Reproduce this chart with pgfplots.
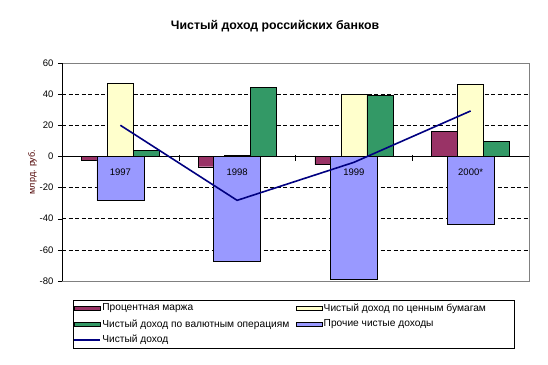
\documentclass[border=0pt]{standalone}
\usepackage{fontspec}
\setmainfont{Liberation Sans}
\usepackage{pgfplots}
\pgfplotsset{compat=1.18}
\definecolor{cPurple}{HTML}{993366}
\definecolor{cYellow}{HTML}{FFFFCC}
\definecolor{cGreen}{HTML}{339966}
\definecolor{cBlue}{HTML}{9999FF}
\definecolor{cNavy}{HTML}{000080}
\definecolor{cLabel}{HTML}{4D0000}
\definecolor{cBorder}{HTML}{808080}
\pgfplotsset{
  barleg/.style={legend image code/.code={\draw[##1] (0pt,-2pt) rectangle (26pt,2pt);}},
  lineleg/.style={legend image code/.code={\draw[##1] (0pt,0pt) -- (26pt,0pt);}},
}
\begin{document}
\begin{tikzpicture}
\begin{axis}[
  scale only axis, width=467pt, height=218pt,
  xmin=-0.5, xmax=3.5, ymin=-80, ymax=60,
  ytick={-80,-60,...,60},
  xtick=\empty,
  ytick pos=left, tick align=outside, major tick length=4pt,
  tick style={black},
  axis line style={cBorder},
  extra y ticks={-60,-40,-20,20,40},
  extra y tick labels={},
  extra y tick style={ymajorgrids=true, major tick length=0pt},
  grid style={black, dash pattern=on 4pt off 2.5pt, line width=0.6pt},
  /pgf/number format/assume math mode=true,
  ticklabel style={font=\fontsize{9.5}{11}\selectfont},
  yticklabel style={xshift=-1pt},
  legend columns=2,
  legend cell align=left,
  legend style={at={(0.0236,-0.0872)}, anchor=north west, draw=black,
    inner xsep=0pt, inner ysep=0pt,
    font=\fontsize{10.2}{12}\selectfont,
    nodes={inner xsep=1.5pt, inner ysep=3.4pt},
    column sep=0pt},
]
\coordinate (bl) at (rel axis cs:0,0);
\addplot[ybar, bar width=0.2227, bar shift=-0.2227, fill=cPurple, draw=black, barleg]
  coordinates {(0,-2.6) (1,-6.6) (2,-5.2) (3,15.9)};
\addlegendentry{\makebox[192pt][l]{Процентная маржа}}
\addplot[ybar, bar width=0.2227, bar shift=0, fill=cYellow, draw=black, barleg]
  coordinates {(0,46.8) (1,0.5) (2,39.7) (3,46.2)};
\addlegendentry{\makebox[189pt][l]{Чистый доход по ценным бумагам}}
\addplot[ybar, bar width=0.2227, bar shift=0.2227, fill=cGreen, draw=black, barleg]
  coordinates {(0,3.9) (1,44.2) (2,39.0) (3,9.6)};
\addlegendentry{\makebox[192pt][l]{Чистый доход по валютным операциям}}
\addplot[ybar, bar width=0.4026, bar shift=0, fill=cBlue, draw=black, barleg]
  coordinates {(0,-28.4) (1,-67.4) (2,-78.6) (3,-43.6)};
\addlegendentry{\makebox[189pt][l]{Прочие чистые доходы}}
\draw[black] (axis cs:-0.5,0) -- (axis cs:3.5,0);
\draw[black] (axis cs:0.5,1) -- (axis cs:0.5,-3);
\draw[black] (axis cs:1.5,1) -- (axis cs:1.5,-3);
\draw[black] (axis cs:2.5,1) -- (axis cs:2.5,-3);
\draw[black] (axis cs:-0.5,-80) -- (axis cs:-0.5,60);
\addplot[cNavy, line width=1.6pt, lineleg]
  coordinates {(0,20) (1,-28.2) (2,-3.8) (3,29.2)};
\addlegendentry{\makebox[192pt][l]{Чистый доход}}
\node[font=\fontsize{9.5}{11}\selectfont] at (axis cs:0,-10.3) {1997};
\node[font=\fontsize{9.5}{11}\selectfont] at (axis cs:1,-10.3) {1998};
\node[font=\fontsize{9.5}{11}\selectfont] at (axis cs:2,-10.3) {1999};
\node[font=\fontsize{9.5}{11}\selectfont] at (axis cs:3,-10.3) {2000*};
\end{axis}
\begin{scope}[shift={(bl)}, x=1pt, y=1pt]
\path[use as bounding box] (-62,-83) rectangle (486,281);
\node[font=\fontsize{12.3}{14}\selectfont\bfseries] at (213,255) {Чистый доход российских банков};
\node[rotate=90, font=\fontsize{9}{10}\selectfont, text=cLabel] at (-29.5,109) {млрд. руб.};
\end{scope}
\end{tikzpicture}
\end{document}
